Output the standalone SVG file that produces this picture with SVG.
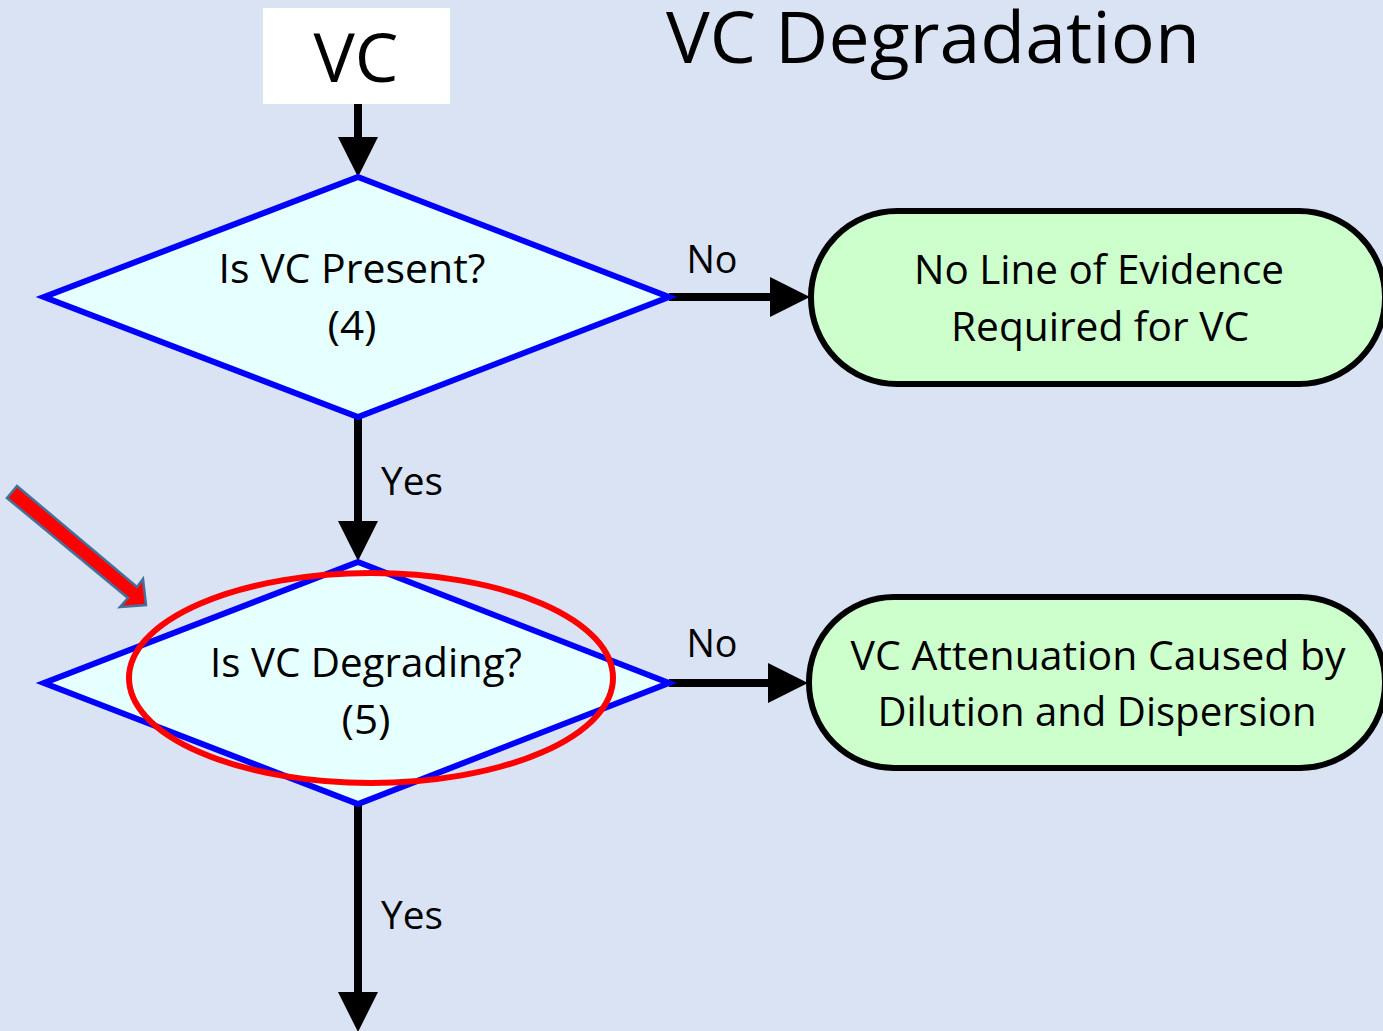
<svg xmlns="http://www.w3.org/2000/svg" width="1383" height="1031" viewBox="0 0 1383 1031">
  <defs>
    <style>
      text { font-family: "Open Sans", "Noto Sans", "DejaVu Sans", sans-serif; fill: #000; text-anchor: middle; }
      .lbl { font-size: 39px; }
      .q { font-size: 40px; }
      .term { font-size: 40px; }
      .decision { fill: #e6ffff; stroke: #0000ff; stroke-width: 6; stroke-linejoin: miter; }
      .terminal { fill: #ccffcc; stroke: #000; stroke-width: 6; }
      .flow { stroke: #000; stroke-width: 8; fill: none; marker-end: url(#head); }
    </style>
    <marker id="head" markerUnits="userSpaceOnUse" markerWidth="40" markerHeight="40" viewBox="0 0 39 39" refX="2" refY="19.5" orient="auto">
      <path d="M0,0 L39,19.5 L0,39 Z" fill="#000"/>
    </marker>
  </defs>

  <rect width="1383" height="1031" fill="#dae3f3"/>

  <!-- title -->
  <text x="933" y="63" style="font-size:72px" textLength="534" lengthAdjust="spacingAndGlyphs">VC Degradation</text>

  <!-- connectors -->
  <g id="connectors">
    <line class="flow" x1="358" y1="104" x2="358" y2="139"/>
    <line class="flow" x1="669" y1="297" x2="772" y2="297"/>
    <line class="flow" x1="358" y1="417" x2="358" y2="523"/>
    <line class="flow" x1="669" y1="683" x2="770" y2="683"/>
    <line class="flow" x1="358" y1="804" x2="358" y2="994"/>
    <text class="lbl" x="712" y="273" textLength="51" lengthAdjust="spacingAndGlyphs">No</text>
    <text class="lbl" x="412" y="495" textLength="62" lengthAdjust="spacingAndGlyphs">Yes</text>
    <text class="lbl" x="712" y="657" textLength="51" lengthAdjust="spacingAndGlyphs">No</text>
    <text class="lbl" x="412" y="929" textLength="62" lengthAdjust="spacingAndGlyphs">Yes</text>
  </g>

  <!-- start box -->
  <g id="start">
    <rect x="263" y="8" width="187" height="96" fill="#ffffff"/>
    <text x="356" y="82" style="font-size:68px" textLength="85" lengthAdjust="spacingAndGlyphs">VC</text>
  </g>

  <!-- decision: present -->
  <g id="present">
    <polygon class="decision" points="358,177 669,297 358,417 44,297"/>
    <text class="q" x="352" y="283" textLength="267" lengthAdjust="spacingAndGlyphs">Is VC Present?</text>
    <text class="q" x="352" y="340" textLength="49" lengthAdjust="spacingAndGlyphs">(4)</text>
  </g>

  <!-- terminal: no evidence -->
  <g id="no-evidence">
    <rect class="terminal" x="811" y="211" width="574" height="173" rx="86" ry="86"/>
    <text class="term" x="1099" y="284" textLength="370" lengthAdjust="spacingAndGlyphs">No Line of Evidence</text>
    <text class="term" x="1100" y="341" textLength="298" lengthAdjust="spacingAndGlyphs">Required for VC</text>
  </g>

  <!-- decision: degrading -->
  <g id="degrading">
    <polygon class="decision" points="358,562 669,683 358,804 44,683"/>
    <text class="q" x="366" y="677" textLength="312" lengthAdjust="spacingAndGlyphs">Is VC Degrading?</text>
    <text class="q" x="366" y="734" textLength="49" lengthAdjust="spacingAndGlyphs">(5)</text>
  </g>

  <!-- terminal: dilution -->
  <g id="dilution">
    <rect class="terminal" x="809" y="597" width="576" height="171" rx="85" ry="85"/>
    <text class="term" x="1098" y="670" textLength="495" lengthAdjust="spacingAndGlyphs">VC Attenuation Caused by</text>
    <text class="term" x="1097" y="726" textLength="439" lengthAdjust="spacingAndGlyphs">Dilution and Dispersion</text>
  </g>

  <!-- highlight ring and pointer -->
  <g id="highlight">
    <ellipse cx="371" cy="678" rx="242" ry="105" fill="none" stroke="#ff0000" stroke-width="6"/>
    <polygon points="7,498 17,486 137,587 143,579 146,605 120,607 128,598" fill="#ff0000" stroke="#41719c" stroke-width="2.5" stroke-linejoin="miter"/>
  </g>
</svg>
